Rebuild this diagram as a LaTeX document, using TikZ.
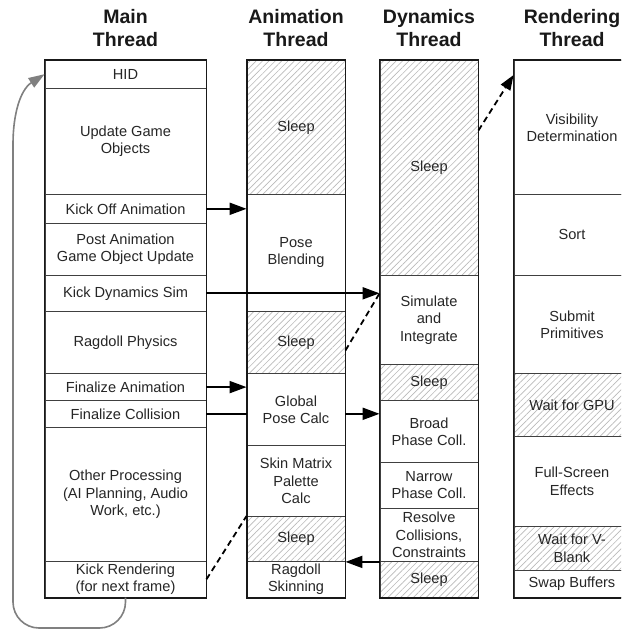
\documentclass[tikz,border=0pt]{standalone}
\usepackage{fontspec}
\setmainfont{Liberation Sans}
\usetikzlibrary{arrows.meta,patterns.meta,calc}
\newcommand\seg[6]{\node[blk,#6,minimum height={#4-#3},anchor=north] (#1) at (#2,#3) {#5};}
\begin{document}
\begin{tikzpicture}[x=1pt,y=-1pt,
 blk/.style={draw=black!75, line width=0.9pt, inner sep=0pt, align=center, text=black!85, font=\fontsize{14.6}{17.3}\selectfont},
 mc/.style={minimum width=161pt},
 ac/.style={minimum width=98pt},
 dc/.style={minimum width=98pt},
 rc/.style={minimum width=116pt},
 hatch/.style={pattern={Lines[angle=45,distance=4.5pt,line width=0.65pt]}, pattern color=black!27},
 hdr/.style={align=center, inner sep=0pt, font=\fontsize{19.5}{23.3}\selectfont\bfseries, text=black!90},
 outer/.style={draw=black!90, line width=1.8pt},
 arr/.style={line width=2pt, black, -{Triangle[length=17pt,width=12pt]}},
 plain/.style={line width=2pt, black},
 dsh/.style={line width=1.8pt, black, dash pattern=on 6pt off 4pt},
 loopy/.style={line width=1.6pt, black!50, -{Triangle[length=16pt,width=11pt]}}
]
\useasboundingbox (0,0) rectangle (621,629);
\fill[white] (0,0) rectangle (621,629);
\clip (0,0) rectangle (621,629);

% headers
\node[hdr] (hm) at (125.5,28.3) {Main\\Thread};
\node[hdr] (ha) at (296,28.3) {Animation\\Thread};
\node[hdr] (hd) at (429,28.3) {Dynamics\\Thread};
\node[hdr] (hr) at (572,28.3) {Rendering\\Thread};

% main thread
\seg{hid}{125.5}{60}{87.5}{HID}{mc}
\seg{ugo}{125.5}{87.5}{194}{Update Game\\Objects}{mc}
\seg{koa}{125.5}{194}{222.7}{Kick Off Animation}{mc}
\seg{paa}{125.5}{222.7}{275}{Post Animation\\Game Object Update}{mc}
\seg{kds}{125.5}{275}{310.7}{Kick Dynamics Sim}{mc}
\seg{rp}{125.5}{310.7}{373.3}{Ragdoll Physics}{mc}
\seg{fa}{125.5}{373.3}{400}{Finalize Animation}{mc}
\seg{fc}{125.5}{400}{426.7}{Finalize Collision}{mc}
\seg{op}{125.5}{426.7}{561}{Other Processing\\(AI Planning, Audio\\Work, etc.)}{mc}
\seg{kr}{125.5}{561}{596.7}{Kick Rendering\\(for next frame)}{mc}

% animation thread
\seg{as1}{296}{60}{194}{Sleep}{ac,hatch}
\seg{pb}{296}{194}{310.7}{Pose\\Blending}{ac}
\seg{as2}{296}{310.7}{373.3}{Sleep}{ac,hatch}
\seg{gpc}{296}{373.3}{445}{Global\\Pose Calc}{ac}
\seg{smp}{296}{445}{516}{Skin Matrix\\Palette\\Calc}{ac}
\seg{as3}{296}{516}{561}{Sleep}{ac,hatch}
\seg{rsk}{296}{561}{596.7}{Ragdoll\\Skinning}{ac}

% dynamics thread
\seg{ds1}{429}{60}{275}{Sleep}{dc,hatch}
\seg{si}{429}{275}{364}{Simulate\\and\\Integrate}{dc}
\seg{ds2}{429}{364}{400}{Sleep}{dc,hatch}
\seg{bp}{429}{400}{462}{Broad\\Phase Coll.}{dc}
\seg{np}{429}{462}{507.7}{Narrow\\Phase Coll.}{dc}
\seg{rcs}{429}{507.7}{561}{Resolve\\Collisions,\\Constraints}{dc}
\seg{ds3}{429}{561}{596.7}{Sleep}{dc,hatch}

% rendering thread
\seg{vd}{572}{60}{194}{Visibility\\Determination}{rc}
\seg{so}{572}{194}{275}{Sort}{rc}
\seg{sp}{572}{275}{373.3}{Submit\\Primitives}{rc}
\seg{wg}{572}{373.3}{435.7}{Wait for GPU}{rc,hatch}
\seg{fs}{572}{435.7}{525.7}{Full-Screen\\Effects}{rc}
\seg{wv}{572}{525.7}{570}{Wait for V-\\Blank}{rc,hatch}
\seg{sb}{572}{570}{596.7}{Swap Buffers}{rc}

% outer borders
\draw[outer] (hid.north west) rectangle (kr.south east);
\draw[outer] (as1.north west) rectangle (rsk.south east);
\draw[outer] (ds1.north west) rectangle (ds3.south east);
\draw[outer] (vd.north west) rectangle (sb.south east);

% solid arrows
\draw[arr] (koa.east) -- (koa.east -| pb.west);
\draw[arr] (kds.east) -- (kds.east -| si.west);
\draw[arr] (fa.east) -- (fa.east -| gpc.west);
\draw[plain] (fc.east) -- (fc.east -| gpc.west);
\draw[arr] (fc.east -| gpc.east) -- (fc.east -| bp.west);
\draw[arr] (rcs.south west) -- (rcs.south west -| rsk.east);

% dashed connectors
\draw[dsh] ([yshift=-8pt]as2.east) -- (kds.east -| si.west);
\draw[dsh, -{Triangle[length=15pt,width=11pt]}] ([yshift=37.5pt]ds1.east) -- ([yshift=-15pt]vd.north west);
\draw[dsh] (kr.east) -- (as3.north west);

% loop back
\draw[loopy, rounded corners=26pt] (kr.south) -- (kr.south |- 0,628) -- (13,628) -- (13,170) .. controls (13,115) and (20,90) .. (hid.west);
\end{tikzpicture}
\end{document}
